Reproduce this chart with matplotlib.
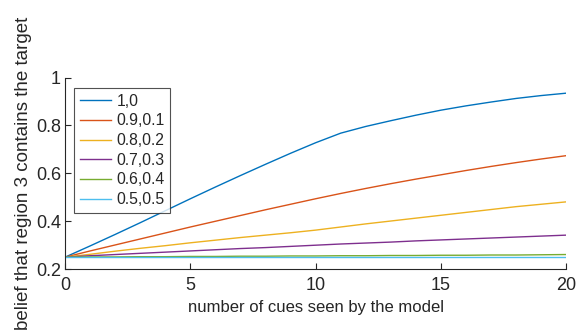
import matplotlib
matplotlib.use("Agg")
import matplotlib.pyplot as plt

plt.rcParams['font.family'] = ['Liberation Sans', 'DejaVu Sans']

cues = list(range(21))
labels = ["1,0", "0.9,0.1", "0.8,0.2", "0.7,0.3", "0.6,0.4", "0.5,0.5"]
s_10 = [0.250, 0.297, 0.345, 0.394, 0.444, 0.494, 0.543, 0.591, 0.638, 0.684, 0.728,
        0.768, 0.796, 0.820, 0.843, 0.864, 0.882, 0.898, 0.913, 0.925, 0.935]
s_91 = [0.250, 0.276, 0.301, 0.326, 0.351, 0.376, 0.400, 0.424, 0.448, 0.471, 0.494,
        0.516, 0.537, 0.557, 0.576, 0.594, 0.612, 0.629, 0.645, 0.660, 0.674]
s_82 = [0.250, 0.262, 0.275, 0.287, 0.298, 0.310, 0.321, 0.332, 0.342, 0.352, 0.363,
        0.376, 0.389, 0.401, 0.413, 0.425, 0.437, 0.449, 0.461, 0.471, 0.481]
s_73 = [0.250, 0.256, 0.261, 0.266, 0.271, 0.276, 0.281, 0.286, 0.290, 0.295, 0.300,
        0.305, 0.309, 0.313, 0.318, 0.322, 0.326, 0.330, 0.334, 0.338, 0.342]
s_64 = [0.250, 0.251, 0.251, 0.252, 0.252, 0.253, 0.253, 0.254, 0.254, 0.255, 0.255,
        0.256, 0.256, 0.257, 0.257, 0.258, 0.258, 0.259, 0.259, 0.260, 0.261]
s_55 = [0.250] * 21
series = [s_10, s_91, s_82, s_73, s_64, s_55]
colors = ["#0072BD", "#D95319", "#EDB120", "#7E2F8E", "#77AC30", "#4DBEEE"]

xticks = [0, 5, 10, 15, 20]
yticks = [0.2, 0.4, 0.6, 0.8, 1.0]
yticklabels = ["0.2", "0.4", "0.6", "0.8", "1"]

fig = plt.figure(figsize=(5.76, 3.36), dpi=100)
ax = fig.add_axes([0.113, 0.199, 0.870, 0.570])
for s, c, l in zip(series, colors, labels):
    ax.plot(cues, s, color=c, lw=1.0, label=l)

tc = "#262626"
ax.set_xlim(0, 20)
ax.set_ylim(0.2, 1.0)
ax.set_xticks(xticks)
ax.set_xticklabels([str(t) for t in xticks])
ax.set_yticks(yticks)
ax.set_yticklabels(yticklabels)
ax.spines['top'].set_visible(False)
ax.spines['right'].set_visible(False)
for sp in ['left', 'bottom']:
    ax.spines[sp].set_color(tc)
    ax.spines[sp].set_linewidth(0.8)
ax.tick_params(direction='in', length=4, width=0.8, colors=tc, labelsize=13)
ax.tick_params(axis='x', pad=6)
ax.tick_params(axis='y', pad=3)
ax.set_xlabel("number of cues seen by the model", fontsize=12, color=tc, labelpad=4)
ax.set_ylabel("belief that region 3 contains the target", fontsize=13.5, color=tc, labelpad=3)

leg = ax.legend(loc='upper left', bbox_to_anchor=(0.018, 0.945), fontsize=11.3,
                frameon=True, fancybox=False, handlelength=2.0, handletextpad=0.35,
                labelspacing=0.3, borderpad=0.35, borderaxespad=0)
leg.get_frame().set_edgecolor(tc)
leg.get_frame().set_linewidth(0.8)
for t in leg.get_texts():
    t.set_color(tc)

fig.savefig("out.png", dpi=100)
